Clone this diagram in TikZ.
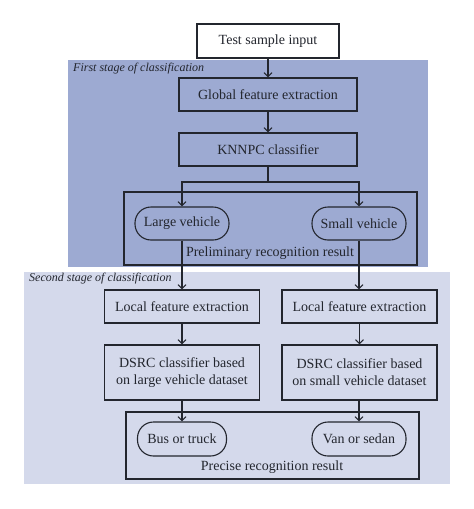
\documentclass[tikz,border=0pt]{standalone}
\usepackage{fontspec}
\setmainfont{Liberation Serif}
\usetikzlibrary{arrows.meta,positioning}
\definecolor{stageone}{HTML}{9DAAD2}
\definecolor{stagetwo}{HTML}{D4D9EB}
\definecolor{ink}{HTML}{23262E}
\tikzset{
  box/.style={draw=ink, line width=1.1pt, inner sep=0pt, align=center, font=\fontsize{14}{17}\selectfont, text=ink},
  pill/.style={box, rounded corners=16pt},
  frame/.style={draw=ink, line width=1.1pt},
  conn/.style={draw=ink, line width=1.1pt, -{Straight Barb[length=4pt,width=8pt]}},
  line/.style={draw=ink, line width=1.1pt},
  stagelabel/.style={font=\fontsize{12}{14}\selectfont\itshape, text=ink, anchor=west, inner sep=0pt},
  plain/.style={font=\fontsize{14}{17}\selectfont, text=ink, inner sep=0pt}
}
\begin{document}
\begin{tikzpicture}[x=1pt,y=-1pt]
\useasboundingbox (0,0) rectangle (474,509);
\fill[white] (0,0) rectangle (474,509);
% stage backgrounds
\fill[stageone] (68,60) rectangle (428,267);
\fill[stagetwo] (24,272) rectangle (450,484);
\node[stagelabel] (l1) at (73,69) {First stage of classification};
\node[stagelabel] (l2) at (29,279) {Second stage of classification};
% first stage
\node[box, minimum width=142pt, minimum height=34pt] (test) at (268,41) {Test sample input};
\node[box, minimum width=178pt, minimum height=33pt] (glob) at (268,94.5) {Global feature extraction};
\node[box, minimum width=178pt, minimum height=33pt] (knn) at (268,149.5) {KNNPC classifier};
\node[frame, minimum width=293pt, minimum height=73pt, inner sep=0pt] (prel) at (270.5,228.5) {};
\node[pill, minimum width=94pt, minimum height=33pt] (large) at (182,223.5) {Large vehicle};
\node[pill, minimum width=94pt, minimum height=33pt] (small) at (359,223.5) {Small vehicle};
\node[plain] (preltxt) at (270,253) {Preliminary recognition result};
% second stage
\node[box, minimum width=155pt, minimum height=33pt] (locl) at (182,306.5) {Local feature extraction};
\node[box, minimum width=155pt, minimum height=33pt] (locr) at (359.5,306.5) {Local feature extraction};
\node[box, minimum width=155pt, minimum height=55pt] (dsrl) at (182,372.5) {DSRC classifier based\\on large vehicle dataset};
\node[box, minimum width=155pt, minimum height=55pt] (dsrr) at (359.5,372.5) {DSRC classifier based\\on small vehicle dataset};
\node[frame, minimum width=293pt, minimum height=67pt, inner sep=0pt] (prec) at (272.5,445.5) {};
\node[pill, minimum width=89pt, minimum height=34pt] (bus) at (182,439) {Bus or truck};
\node[pill, minimum width=94pt, minimum height=34pt] (van) at (359,439) {Van or sedan};
\node[plain] (prectxt) at (272,467) {Precise recognition result};
% connectors
\coordinate (split) at (268,182);
\draw[conn] (test) -- (glob);
\draw[conn] (glob) -- (knn);
\draw[line] (knn.south) -- (split);
\draw[conn] (split) -| (large.north);
\draw[conn] (split) -| (small.north);
\draw[conn] (large.south) -- (locl.north);
\draw[conn] (small.south) -- (small.south |- locr.north);
\draw[conn] (locl) -- (dsrl);
\draw[conn] (locr) -- (dsrr);
\draw[conn] (dsrl.south) -- (dsrl.south |- bus.north);
\draw[conn] (dsrr.south) -- (dsrr.south -| van.north) -- (van.north);
\end{tikzpicture}
\end{document}
